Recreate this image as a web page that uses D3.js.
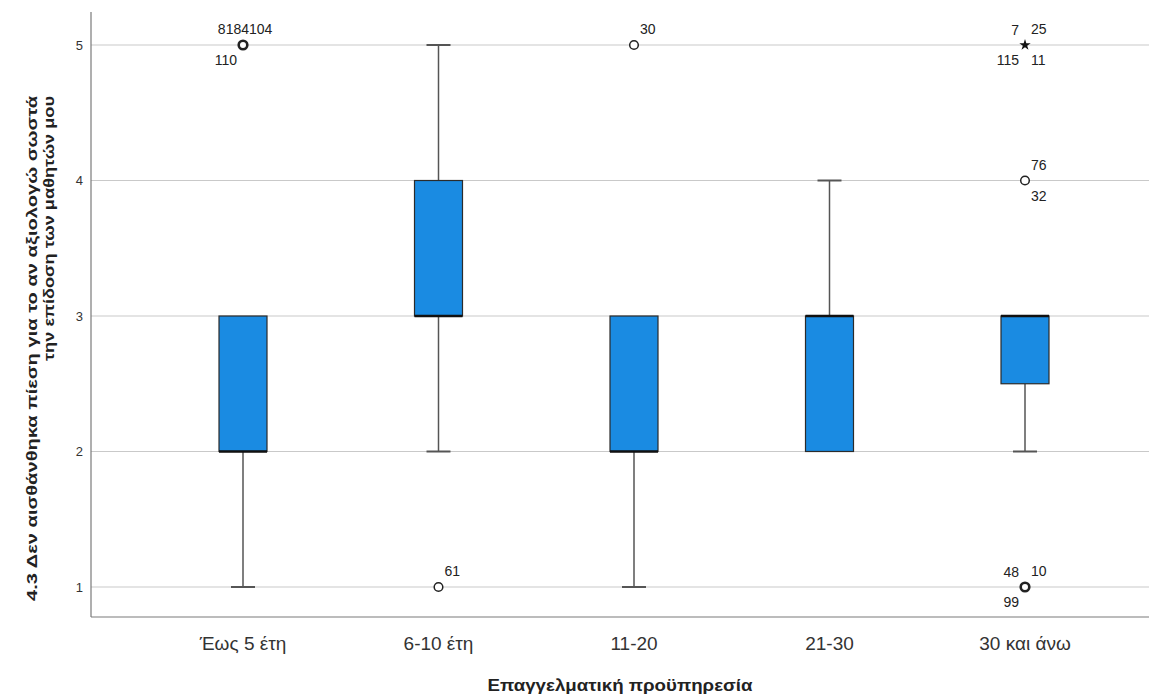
<!DOCTYPE html>
<html>
<head>
<meta charset="utf-8">
<script src="https://cdn.jsdelivr.net/npm/d3@7"></script>
<style>
  html, body { margin: 0; padding: 0; background: #fff; }
  svg { display: block; font-family: "Liberation Sans", Arial, sans-serif; }
</style>
</head>
<body>
<svg id="chart" width="1169" height="697"></svg>
<script>
// Box plot summary per experience group
const categories = ["Έως 5 έτη", "6-10 έτη", "11-20", "21-30", "30 και άνω"];
const whiskerLow = [1, 2, 1, 2, 2];
const q1 = [2, 3, 2, 2, 2.5];
const median = [2, 3, 2, 3, 3];
const q3 = [3, 4, 3, 3, 3];
const whiskerHigh = [3, 5, 3, 4, 3];

// Outliers (circle) and extremes (star) with case labels and label slots
const outliers = [
  { cat: 0, value: 5, kind: "o", labels: [["81", "uc"], ["84", "uc"], ["104", "ur"], ["110", "ll"]] },
  { cat: 1, value: 1, kind: "o", labels: [["61", "ur"]] },
  { cat: 2, value: 5, kind: "o", labels: [["30", "ur"]] },
  { cat: 4, value: 5, kind: "*", labels: [["7", "ul"], ["25", "ur"], ["115", "ll"], ["11", "lr"]] },
  { cat: 4, value: 4, kind: "o", labels: [["76", "ur"], ["32", "lr"]] },
  { cat: 4, value: 1, kind: "o", labels: [["48", "ul"], ["10", "ur"], ["99", "ll"]] }
];

const yTicks = [1, 2, 3, 4, 5];
const yTitle = ["4.3 Δεν αισθάνθηκα πίεση για το αν αξιολογώ σωστά", "την επίδοση των μαθητών μου"];
const xTitle = "Επαγγελματική προϋπηρεσία";

const svg = d3.select("#chart");
const plot = { left: 91, right: 1149, top: 12, bottom: 617 };

const x = d3.scalePoint().domain(categories).range([243, 1025]);
const y = d3.scaleLinear().domain([1, 5]).range([587, 45]);
const boxW = 48, capW = 24;

// gridlines
svg.append("g").selectAll("line").data(yTicks).join("line")
  .attr("x1", plot.left).attr("x2", plot.right)
  .attr("y1", d => y(d)).attr("y2", d => y(d))
  .attr("stroke", "#c9c9c9").attr("stroke-width", 1.2);

// axes lines
svg.append("line").attr("x1", plot.left).attr("x2", plot.left)
  .attr("y1", plot.top).attr("y2", plot.bottom).attr("stroke", "#7a7a7a").attr("stroke-width", 1.2);
svg.append("line").attr("x1", plot.left).attr("x2", plot.right)
  .attr("y1", plot.bottom).attr("y2", plot.bottom).attr("stroke", "#7a7a7a").attr("stroke-width", 1.2);

// y tick labels
svg.append("g").selectAll("text").data(yTicks).join("text")
  .attr("x", 83).attr("y", d => y(d)).attr("dy", "0.35em")
  .attr("text-anchor", "end").attr("font-size", 13).attr("fill", "#333")
  .text(d => d);

// x category labels
svg.append("g").selectAll("text").data(categories).join("text")
  .attr("x", d => x(d)).attr("y", 650)
  .attr("text-anchor", "middle").attr("font-size", 19).attr("fill", "#333")
  .text(d => d);

// axis titles
svg.append("text").attr("x", 620).attr("y", 691)
  .attr("text-anchor", "middle").attr("font-size", 17).attr("font-weight", "bold").attr("fill", "#222")
  .attr("textLength", 265).attr("lengthAdjust", "spacingAndGlyphs")
  .text(xTitle);

const yTitleLen = [505, 265];
yTitle.forEach((t, i) => {
  svg.append("text")
    .attr("transform", `translate(${37 + i * 17},96) rotate(-90)`)
    .attr("text-anchor", "end").attr("font-size", 15.5).attr("font-weight", "bold").attr("fill", "#222")
    .attr("textLength", yTitleLen[i]).attr("lengthAdjust", "spacingAndGlyphs")
    .text(t);
});

// boxes
const groups = svg.append("g").selectAll("g").data(categories).join("g");

groups.append("line")
  .attr("x1", d => x(d)).attr("x2", d => x(d))
  .attr("y1", (d, i) => y(whiskerLow[i])).attr("y2", (d, i) => y(q1[i]))
  .attr("stroke", "#555").attr("stroke-width", 1.5);
groups.append("line")
  .attr("x1", d => x(d)).attr("x2", d => x(d))
  .attr("y1", (d, i) => y(q3[i])).attr("y2", (d, i) => y(whiskerHigh[i]))
  .attr("stroke", "#555").attr("stroke-width", 1.5);
groups.filter((d, i) => whiskerLow[i] < q1[i]).append("line")
  .attr("x1", d => x(d) - capW / 2).attr("x2", d => x(d) + capW / 2)
  .attr("y1", d => y(whiskerLow[categories.indexOf(d)])).attr("y2", d => y(whiskerLow[categories.indexOf(d)]))
  .attr("stroke", "#555").attr("stroke-width", 2);
groups.filter((d, i) => whiskerHigh[i] > q3[i]).append("line")
  .attr("x1", d => x(d) - capW / 2).attr("x2", d => x(d) + capW / 2)
  .attr("y1", d => y(whiskerHigh[categories.indexOf(d)])).attr("y2", d => y(whiskerHigh[categories.indexOf(d)]))
  .attr("stroke", "#555").attr("stroke-width", 2);

groups.append("rect")
  .attr("x", d => x(d) - boxW / 2).attr("width", boxW)
  .attr("y", (d, i) => y(q3[i])).attr("height", (d, i) => y(q1[i]) - y(q3[i]))
  .attr("fill", "#1a8be2").attr("stroke", "#2b2b2b").attr("stroke-width", 1.2);

groups.append("line")
  .attr("x1", d => x(d) - boxW / 2).attr("x2", d => x(d) + boxW / 2)
  .attr("y1", (d, i) => y(median[i])).attr("y2", (d, i) => y(median[i]))
  .attr("stroke", "#111").attr("stroke-width", 2.5);

// outlier markers and labels
const og = svg.append("g");
outliers.forEach(o => {
  const cx = x(categories[o.cat]), cy = y(o.value);
  if (o.kind === "*") {
    og.append("path").attr("d", d3.symbol(d3.symbolStar, 40)())
      .attr("transform", `translate(${cx},${cy})`).attr("fill", "#111");
  } else {
    og.append("circle").attr("cx", cx).attr("cy", cy).attr("r", 4.3)
      .attr("fill", "#fff").attr("stroke", "#222")
      .attr("stroke-width", o.labels.length >= 3 ? 2.6 : 1.5);
  }
  const slots = d3.group(o.labels, d => d[1]);
  const conf = {
    uc: { dx: 6, dy: -11, anchor: "end" },
    ul: { dx: -6, dy: -10, anchor: "end" },
    ur: { dx: 6, dy: -11, anchor: "start" },
    ll: { dx: -6, dy: 20, anchor: "end" },
    lr: { dx: 6, dy: 20, anchor: "start" }
  };
  slots.forEach((arr, slot) => {
    const c = conf[slot];
    og.append("text").attr("x", cx + c.dx).attr("y", cy + c.dy)
      .attr("text-anchor", c.anchor).attr("font-size", 14).attr("fill", "#222")
      .text(arr.map(a => a[0]).join(""));
  });
});
</script>
</body>
</html>
